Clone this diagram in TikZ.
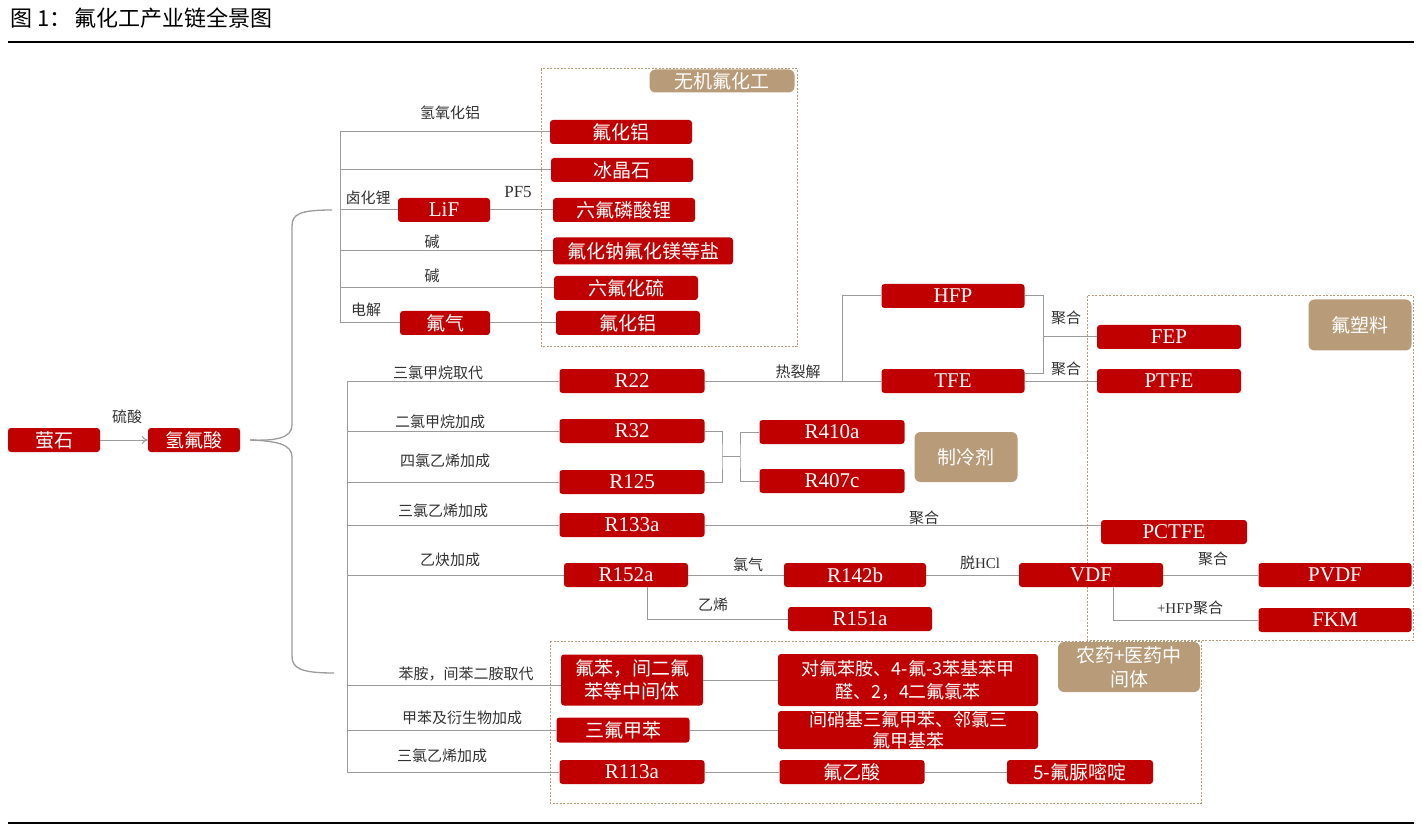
\documentclass[tikz,border=0pt]{standalone}
\usepackage{fontspec}
\setmainfont{Liberation Serif}
\newfontfamily\cjk{Noto Sans CJK SC}
\usetikzlibrary{arrows.meta,calc}
\definecolor{ChemRed}{RGB}{192,0,0}
\definecolor{TagTan}{RGB}{184,155,120}
\definecolor{LinkGray}{RGB}{155,155,155}
\definecolor{LblClr}{RGB}{50,50,50}

\begin{document}
\begin{tikzpicture}[x=1pt,y=-1pt,
  redbox/.style={fill=ChemRed,text=white,rounded corners=3pt,inner sep=0pt,
    minimum height=24pt,align=center,font=\cjk\fontsize{19}{23}\selectfont},
  latin/.style={redbox,font=\fontsize{21}{24}\selectfont},
  tag/.style={fill=TagTan,text=white,rounded corners=6pt,inner sep=0pt,
    align=center,font=\cjk\fontsize{19}{24}\selectfont},
  lbl/.style={text=LblClr,inner sep=0pt,font=\cjk\fontsize{15}{18}\selectfont},
  llbl/.style={text=LblClr,inner sep=0pt,font=\fontsize{17}{18}\selectfont},
  link/.style={draw=LinkGray,line width=1pt},
  zone/.style={draw=TagTan,line width=1pt,dash pattern=on 2pt off 1.5pt},
  rule/.style={draw=black,line width=2.6pt}]
\useasboundingbox (0,0) rectangle (1422,826);

% title and rules
\node[anchor=west,inner sep=0pt,font=\cjk\fontsize{22}{24}\selectfont] (title) at (10,18) {图 1：\,氟化工产业链全景图};
\draw[rule] (8,42) -- (1414,42);
\draw[rule] (8,823) -- (1414,823);

% frames
\draw[zone] (541,69) rectangle (797,347);
\draw[zone] (1087,296) rectangle (1413,640);
\draw[zone] (550,641) rectangle (1201,803);

\node[tag,minimum width=145,minimum height=23] (inorg) at (722,81) {无机氟化工};
\node[tag,minimum width=103,minimum height=51] (plastic) at (1360,325) {氟塑料};
\node[tag,minimum width=103,minimum height=50] (refrig) at (966,457) {制冷剂};
\node[tag,minimum width=142,minimum height=50] (pharma) at (1129,667) {农药+医药中\\间体};

% start
\node[redbox,minimum width=92] (fluorite) at (54,440) {萤石};
\node[redbox,minimum width=92] (hf) at (194,440) {氢氟酸};
\draw[link,-{To[length=6pt,width=8pt]}] (fluorite.east) -- (hf.west);
\node[lbl] (h2so4) at (127,417) {硫酸};

% inorganic branch
\node[redbox,minimum width=142] (alfa) at (621,132) {氟化铝};
\node[redbox,minimum width=142] (cryo) at (622,170) {冰晶石};
\node[redbox,minimum width=142] (lipf) at (624,210) {六氟磷酸锂};
\node[redbox,minimum width=180,minimum height=27] (salt) at (643,251) {氟化钠氟化镁等盐};
\node[redbox,minimum width=144] (sfsix) at (626,288) {六氟化硫};
\node[redbox,minimum width=144] (alfb) at (628,323) {氟化铝};
\node[latin,minimum width=92] (lif) at (444,210) {LiF};
\node[redbox,minimum width=90] (ftwo) at (445,323) {氟气};

\coordinate (utop) at (340,132);
\draw[link] (utop) -- (ftwo.west -| utop);
\draw[link] (utop) -- (alfa.west);
\draw[link] (cryo.west -| utop) -- (cryo.west);
\draw[link] (lif.west -| utop) -- (lif.west);
\draw[link] (lif.east) -- (lipf.west);
\draw[link] (salt.west -| utop) -- (salt.west);
\draw[link] (sfsix.west -| utop) -- (sfsix.west);
\draw[link] (ftwo.west -| utop) -- (ftwo.west);
\draw[link] (ftwo.east) -- (alfb.west);

\node[lbl] (alhyd) at (450,113) {氢氧化铝};
\node[lbl] (lihal) at (368,198) {卤化锂};
\node[llbl] (pf) at (518,192) {PF5};
\node[lbl] (alka) at (432,242) {碱};
\node[lbl] (alkb) at (432,276) {碱};
\node[lbl] (elec) at (366,310) {电解};

% brace
\coordinate (cusp) at ([xshift=10pt]hf.east);
\coordinate (btip) at (334,673);
\draw[link,line width=1.3pt] (cusp) .. controls (276,441) and (292,438) .. (292,425)
  -- (292,226) .. controls (292,214) and (300,210) .. ([xshift=-8pt]lif.west -| utop);
\draw[link,line width=1.3pt] (cusp) .. controls (276,441) and (292,444) .. (292,457)
  -- (292,656) .. controls (292,668) and (300,673) .. (btip);

% organic branch
\node[latin,minimum width=145] (rtt) at (632,381) {R22};
\node[latin,minimum width=145] (rtw) at (632,431) {R32};
\node[latin,minimum width=145] (rot) at (632,482) {R125};
\node[latin,minimum width=145] (rott) at (632,525) {R133a};
\node[latin,minimum width=124] (rofc) at (626,575) {R152a};
\node[latin,minimum width=145] (rfo) at (832,432) {R410a};
\node[latin,minimum width=145] (rfz) at (832,481) {R407c};
\node[latin,minimum width=143] (hfp) at (953,296) {HFP};
\node[latin,minimum width=143] (tfe) at (953,381) {TFE};
\node[latin,minimum width=144] (fep) at (1169,337) {FEP};
\node[latin,minimum width=144] (ptfe) at (1169,381) {PTFE};
\node[latin,minimum width=146] (pctfe) at (1174,532) {PCTFE};
\node[latin,minimum width=142] (rofb) at (855,575) {R142b};
\node[latin,minimum width=144] (rofa) at (860,619) {R151a};
\node[latin,minimum width=144] (vdf) at (1091,575) {VDF};
\node[latin,minimum width=153] (pvdf) at (1335,575) {PVDF};
\node[latin,minimum width=153] (fkm) at (1335,620) {FKM};
\node[redbox,minimum width=142,minimum height=51] (fbz) at (632,680) {氟苯，间二氟\\苯等中间体};
\node[redbox,minimum width=260,minimum height=52,font=\cjk\fontsize{18}{23}\selectfont] (fani) at (908,680) {对氟苯胺、4-氟-3苯基苯甲\\醛、2，4二氟氯苯};
\node[redbox,minimum width=133,minimum height=25] (tfmb) at (623,730) {三氟甲苯};
\node[redbox,minimum width=260,minimum height=38,font=\cjk\fontsize{18}{21}\selectfont] (ntfm) at (908,730) {间硝基三氟甲苯、邻氯三\\氟甲基苯};
\node[latin,minimum width=145] (rott a) at (632,772) {R113a};
\node[redbox,minimum width=145] (facid) at (852,772) {氟乙酸};
\node[redbox,minimum width=146] (fu) at (1080,772) {5-氟脲嘧啶};

\coordinate (mx) at (347,0);
\draw[link] (rtt.west -| mx) -- (rott a.west -| mx);
\draw[link] (rtt.west -| mx) -- (rtt.west);
\draw[link] (rtw.west -| mx) -- (rtw.west);
\draw[link] (rot.west -| mx) -- (rot.west);
\draw[link] (rott.west -| mx) -- (rott.west);
\draw[link] (rofc.west -| mx) -- (rofc.west);
\draw[link] ([yshift=-5pt]fbz.west -| mx) -- ([yshift=-5pt]fbz.west);
\draw[link] (tfmb.west -| mx) -- (tfmb.west);
\draw[link] (rott a.west -| mx) -- (rott a.west);

\node[lbl] (chcl) at (438,373) {三氯甲烷取代};
\node[lbl] (chtw) at (440,422) {二氯甲烷加成};
\node[lbl] (ccl) at (445,461) {四氯乙烯加成};
\node[lbl] (tcea) at (443,511) {三氯乙烯加成};
\node[lbl] (acet) at (450,560) {乙炔加成};
\node[lbl] (anil) at (466,674) {苯胺，间苯二胺取代};
\node[lbl] (tolu) at (462,718) {甲苯及衍生物加成};
\node[lbl] (tceb) at (442,756) {三氯乙烯加成};

% fluoro plastics
\coordinate (crack) at (842,381);
\draw[link] (rtt.east) -- (tfe.west);
\draw[link] (crack) |- (hfp.west);
\coordinate (polyj) at (1043,337);
\draw[link] (hfp.east) -| (polyj) |- ([yshift=8pt]tfe.east);
\draw[link] (polyj) -- (fep.west);
\draw[link] (tfe.east) -- (ptfe.west);
\node[lbl] (pyro) at (798,372) {热裂解};
\node[lbl] (polya) at (1066,318) {聚合};
\node[lbl] (polyb) at (1066,369) {聚合};

% refrigerant blends
\coordinate (mixj) at (722,456);
\coordinate (mixs) at (740,456);
\draw[link] (rtw.east) -| (mixj) |- (rot.east);
\draw[link] (mixj) -- (mixs);
\draw[link] (rfo.west) -| (mixs) |- (rfz.west);

\draw[link] (rott.east) -- (rott.east -| pctfe.west);
\node[lbl] (polyc) at (924,518) {聚合};

% VDF chain
\draw[link] (rofc.east) -- (rofb.west);
\draw[link] ([xshift=21pt]rofc.south) |- (rofa.west);
\draw[link] (rofb.east) -- (vdf.west);
\draw[link] (vdf.east) -- (pvdf.west);
\draw[link] ([xshift=22pt]vdf.south) |- (fkm.west);
\node[lbl] (chlo) at (748,565) {氯气};
\node[lbl] (ethy) at (713,605) {乙烯};
\node[lbl] (dehcl) at (980,563) {脱{\fontspec{Liberation Serif}HCl}};
\node[lbl] (polyd) at (1213,559) {聚合};
\node[lbl] (polye) at (1190,608) {{\fontspec{Liberation Serif}+HFP}聚合};

% intermediates
\draw[link] (fbz.east) -- (fani.west);
\draw[link] (tfmb.east) -- (ntfm.west);
\draw[link] (rott a.east) -- (facid.west);
\draw[link] (facid.east) -- (fu.west);
\end{tikzpicture}
\end{document}
